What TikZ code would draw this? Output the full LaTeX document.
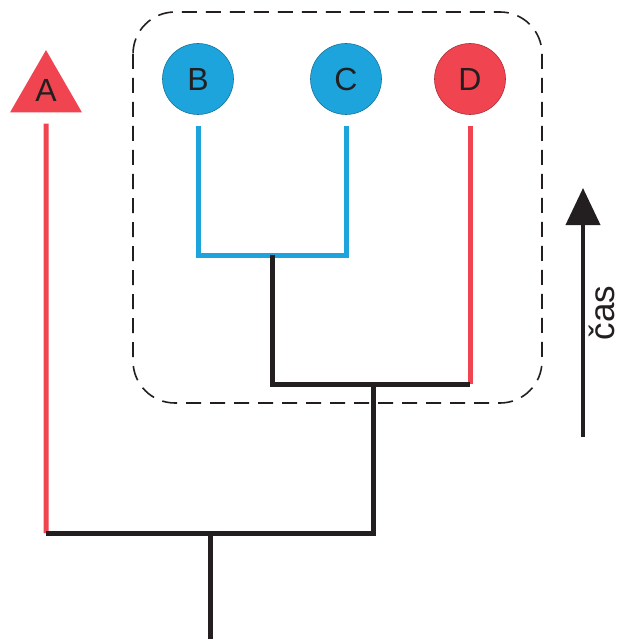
\documentclass[tikz,border=0pt]{standalone}
\usepackage{fontspec}
\setmainfont{Liberation Sans}
\usetikzlibrary{shapes.geometric,arrows.meta}

\definecolor{tred}{RGB}{240,68,80}
\definecolor{tblue}{RGB}{30,164,220}
\definecolor{tdark}{RGB}{35,31,32}

\tikzstyle{taxon} = [circle, minimum size=71pt, inner sep=0pt, line width=0.6pt, font=\fontsize{32}{32}\selectfont, text=tdark]
\tikzstyle{outgroup} = [regular polygon, regular polygon sides=3, minimum size=83pt, inner sep=0pt, fill=tred, font=\fontsize{32}{32}\selectfont, text=tdark]
\tikzstyle{redline} = [draw=tred, line width=5pt]
\tikzstyle{blueline} = [draw=tblue, line width=5pt]
\tikzstyle{darkline} = [draw=tdark, line width=5pt]

\begin{document}
\begin{tikzpicture}[x=1pt, y=1pt]
\useasboundingbox (0,0) rectangle (621,-639);
% taxa
\node[outgroup] (A) at (46,-91.6) {\raisebox{3pt}{A}};
\node[taxon, fill=tblue, draw=tblue!70!black] (B) at (198,-79) {B};
\node[taxon, fill=tblue, draw=tblue!70!black] (C) at (346,-79) {C};
\node[taxon, fill=tred, draw=tred!70!black] (D) at (470,-79) {D};
% branching points
\coordinate (jBC) at (272,-255);
\coordinate (jBCD) at (373,-384);
\coordinate (root) at (210,-533);
\coordinate (base) at (210,-639);
% branches
\draw[blueline] ([yshift=-11pt]B.south) |- (jBC) -| ([yshift=-11pt]C.south);
\draw[redline] ([yshift=-11pt]D.south) -- (D |- jBCD);
\draw[redline] ([yshift=-11pt]A.south) -- (A |- root);
\draw[darkline] (jBC) |- (D |- jBCD);
\draw[darkline] (jBCD) |- (A |- root);
\draw[darkline] (root) -- (base);
% clade
\draw[tdark, line width=1.6pt, dash pattern=on 15pt off 9pt, rounded corners=42pt] (133,-12) rectangle (542,-403);
% time axis
\coordinate (t0) at (583,-437);
\coordinate (t1) at (583,-188);
\draw[tdark, line width=4pt, -{Triangle[length=37pt, width=34pt]}] (t0) -- (t1);
\node[rotate=90, inner sep=0pt, font=\fontsize{35}{35}\selectfont, text=tdark] (cas) at (602,-313) {čas};
\end{tikzpicture}
\end{document}
